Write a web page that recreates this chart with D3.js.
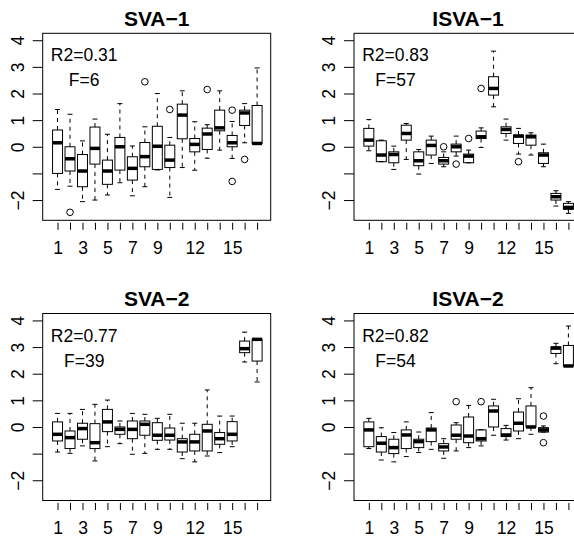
<!DOCTYPE html>
<html>
<head>
<meta charset="utf-8">
<script src="https://cdn.jsdelivr.net/npm/d3@7"></script>
<style>
  html, body { margin: 0; padding: 0; background: #fff; }
  svg text { font-family: "Liberation Sans", Arial, Helvetica, sans-serif; fill: #000; }
</style>
</head>
<body>
<svg id="chart" width="574" height="539"></svg>
<script>
// ---------- data ----------
const groups = d3.range(1, 18);
const xTickLabels = ["1", "", "3", "", "5", "", "7", "", "9", "", "", "12", "", "", "15", "", ""];
const yTickValues = [-2, -1, 0, 1, 2, 3, 4];
const yTickLabels = ["\u22122", "", "0", "1", "2", "3", "4"];

const panelTitles = ["SVA\u22121", "ISVA\u22121", "SVA\u22122", "ISVA\u22122"];
const r2Labels = ["R2=0.31", "R2=0.83", "R2=0.77", "R2=0.82"];
const fLabels = ["F=6", "F=57", "F=39", "F=54"];

// SVA-1
const sva1Lo  = [-1.6, -1.48, -2.06, -2.0, -1.81, -1.35, -1.84, -1.5, -0.87, -1.9, -0.78, -0.88, -0.43, -0.125, -0.44, 0.15, 0.125];
const sva1Q1  = [-1.0, -0.91, -1.5, -0.65, -1.41, -0.875, -1.25, -0.75, -0.85, -0.78, 0.3, -0.19, -0.1, 0.6, 0.0, 0.8, 0.125];
const sva1Med = [0.15, -0.45, -0.91, -0.06, -0.91, 0.0, -0.81, -0.37, 0.02, -0.5, 1.19, 0.09, 0.48, 0.71, 0.15, 1.27, 0.125];
const sva1Q3  = [0.63, 0.0, -0.29, 0.74, -0.5, 0.35, -0.375, 0.16, 0.77, 0.06, 1.6, 0.31, 0.7, 1.375, 0.425, 1.375, 1.55];
const sva1Hi  = [1.4, 1.22, 0.22, 1.04, 0.47, 1.62, 0.03, 0.75, 2.0, 0.35, 2.1, 0.94, 0.83, 2.1, 0.95, 1.62, 2.96];
const sva1OutGroup = [2, 8, 10, 13, 15, 15, 16];
const sva1OutValue = [-2.46, 2.44, 1.4, 2.15, 1.375, -1.3, -0.475];

// ISVA-1
const isva1Lo  = [-0.15, -0.56, -0.85, -0.475, -1.025, -0.625, -0.75, -0.35, -0.6, -0.025, 1.5, 0.25, -0.275, -0.31, -0.75, -2.225, -2.5];
const isva1Q1  = [0.025, -0.56, -0.6, 0.25, -0.71, -0.31, -0.65, -0.19, -0.6, 0.31, 1.94, 0.5, 0.125, 0.06, -0.625, -2.0, -2.35];
const isva1Med = [0.25, -0.31, -0.29, 0.5, -0.525, 0.05, -0.525, 0.0, -0.35, 0.375, 2.19, 0.65, 0.4, 0.375, -0.31, -1.875, -2.275];
const isva1Q3  = [0.69, 0.225, -0.19, 0.81, -0.19, 0.25, -0.4, 0.1, -0.275, 0.59, 2.63, 0.75, 0.44, 0.44, -0.225, -1.75, -2.125];
const isva1Hi  = [1.02, 0.25, 0.025, 0.875, -0.1, 0.4, -0.19, 0.4, -0.125, 0.71, 3.59, 1.04, 0.69, 0.525, 0.1, -1.65, -2.06];
const isva1OutGroup = [7, 8, 9, 10, 13];
const isva1OutValue = [0.0, -0.65, 0.31, 2.19, -0.56];

// SVA-2
const sva2Lo  = [-0.94, -0.99, -0.71, -1.275, -0.74, -0.625, -1.025, -0.99, -0.84, -0.84, -1.19, -1.31, -1.09, -0.96, -0.74, 2.44, 1.69];
const sva2Q1  = [-0.525, -0.81, -0.46, -0.81, -0.175, -0.275, -0.44, -0.31, -0.5, -0.49, -0.94, -0.9, -0.9, -0.65, -0.525, 2.79, 2.475];
const sva2Med = [-0.275, -0.4, -0.06, -0.59, 0.19, -0.09, -0.09, 0.1, -0.31, -0.31, -0.56, -0.56, -0.15, -0.44, -0.275, 2.94, 3.29];
const sva2Q3  = [0.19, -0.15, 0.14, 0.125, 0.66, 0.0, 0.225, 0.225, 0.16, -0.04, -0.44, -0.275, 0.1, -0.21, 0.2, 3.225, 3.29];
const sva2Hi  = [0.51, 0.51, 0.66, 0.85, 1.01, 0.225, 0.51, 0.475, 0.325, 0.475, 0.14, 0.14, 1.39, 0.41, 0.41, 3.56, 3.29];
const sva2OutGroup = [];
const sva2OutValue = [];

// ISVA-2
const isva2Lo  = [-0.81, -1.24, -1.31, -1.11, -0.96, -0.84, -1.175, -0.9, -0.775, -0.71, -0.31, -0.49, -0.44, -0.275, -0.19, 2.375, 2.29];
const isva2Q1  = [-0.74, -0.94, -1.0, -0.81, -0.775, -0.55, -0.9, -0.46, -0.59, -0.525, 0.0, -0.36, -0.15, 0.0, -0.19, 2.76, 2.29];
const isva2Med = [-0.11, -0.61, -0.775, -0.3, -0.55, -0.11, -0.75, -0.31, -0.34, -0.44, 0.6, -0.3, 0.14, 0.0, -0.11, 2.96, 2.29];
const isva2Q3  = [0.19, -0.36, -0.46, -0.11, -0.46, -0.04, -0.625, 0.075, 0.375, -0.11, 0.79, -0.06, 0.56, 0.79, -0.025, 3.01, 3.06];
const isva2Hi  = [0.325, -0.03, -0.21, 0.19, -0.19, 0.54, -0.44, 0.16, 0.81, -0.1, 1.04, 0.06, 1.06, 1.475, 0.04, 3.14, 3.79];
const isva2OutGroup = [8, 10, 15, 15];
const isva2OutValue = [0.95, 0.95, 0.41, -0.59];

// ---------- layout ----------
const svg = d3.select("#chart");
const PW = 228, PH = 187;
const panelPos = [
  { left: 42.7, top: 33.3 },
  { left: 354,  top: 33.3 },
  { left: 42.7, top: 313.5 },
  { left: 354,  top: 313.5 }
];
const panelData = [
  { lo: sva1Lo,  q1: sva1Q1,  med: sva1Med,  q3: sva1Q3,  hi: sva1Hi,  og: sva1OutGroup,  ov: sva1OutValue },
  { lo: isva1Lo, q1: isva1Q1, med: isva1Med, q3: isva1Q3, hi: isva1Hi, og: isva1OutGroup, ov: isva1OutValue },
  { lo: sva2Lo,  q1: sva2Q1,  med: sva2Med,  q3: sva2Q3,  hi: sva2Hi,  og: sva2OutGroup,  ov: sva2OutValue },
  { lo: isva2Lo, q1: isva2Q1, med: isva2Med, q3: isva2Q3, hi: isva2Hi, og: isva2OutGroup, ov: isva2OutValue }
];

const FS = 17.5;

panelData.forEach((pd, pi) => {
  const { left, top } = panelPos[pi];
  const x = d3.scaleLinear().domain([-0.19, 18.09]).range([left, left + PW]);
  const y = d3.scaleLinear().domain([-2.76, 4.26]).range([top + PH, top]);
  const ux = x(1) - x(0);
  const g = svg.append("g");

  // title
  g.append("text")
    .attr("x", left + PW / 2).attr("y", top - 7.5)
    .attr("text-anchor", "middle")
    .attr("font-size", 21).attr("font-weight", "bold")
    .text(panelTitles[pi]);

  // y axis
  const yAx = g.append("g")
    .attr("transform", `translate(${left},0)`)
    .call(d3.axisLeft(y).tickValues(yTickValues).tickSize(10)
      .tickFormat((d, i) => yTickLabels[i]));
  yAx.select(".domain").remove();
  yAx.selectAll("line").attr("stroke", "#000");
  yAx.selectAll("text")
    .attr("x", null).attr("dy", null)
    .attr("transform", "translate(-18.7,0) rotate(-90)")
    .attr("text-anchor", "middle")
    .attr("font-size", FS)
    .attr("fill", "#000");

  // x axis
  const xAx = g.append("g")
    .attr("transform", `translate(0,${top + PH + 2.5})`)
    .call(d3.axisBottom(x).tickValues(groups).tickSize(7)
      .tickFormat((d, i) => xTickLabels[i]));
  xAx.select(".domain").remove();
  xAx.selectAll("line").attr("stroke", "#000");
  xAx.selectAll("text")
    .attr("dy", null).attr("y", 31)
    .attr("font-size", FS)
    .attr("fill", "#000");

  // boxes
  const bw = 0.4 * ux, sw = 0.4 * ux;
  const bx = g.append("g").attr("fill", "none").attr("stroke", "#000").attr("stroke-width", 1);
  groups.forEach((gr, i) => {
    const cx = x(gr);
    // whiskers
    bx.append("line").attr("x1", cx).attr("x2", cx)
      .attr("y1", y(pd.q3[i])).attr("y2", y(pd.hi[i])).attr("stroke-dasharray", "4,4");
    bx.append("line").attr("x1", cx).attr("x2", cx)
      .attr("y1", y(pd.q1[i])).attr("y2", y(pd.lo[i])).attr("stroke-dasharray", "4,4");
    // staples
    bx.append("line").attr("x1", cx - sw / 2).attr("x2", cx + sw / 2)
      .attr("y1", y(pd.hi[i])).attr("y2", y(pd.hi[i]));
    bx.append("line").attr("x1", cx - sw / 2).attr("x2", cx + sw / 2)
      .attr("y1", y(pd.lo[i])).attr("y2", y(pd.lo[i]));
    // box
    bx.append("rect").attr("x", cx - bw).attr("width", 2 * bw)
      .attr("y", y(pd.q3[i])).attr("height", Math.max(0, y(pd.q1[i]) - y(pd.q3[i])));
    // median
    bx.append("line").attr("x1", cx - bw).attr("x2", cx + bw)
      .attr("y1", y(pd.med[i])).attr("y2", y(pd.med[i])).attr("stroke-width", 3.5);
  });
  // outliers
  pd.og.forEach((gr, k) => {
    bx.append("circle").attr("cx", x(gr)).attr("cy", y(pd.ov[k])).attr("r", 3.3);
  });

  // plot frame
  g.append("rect").attr("x", left).attr("y", top).attr("width", PW).attr("height", PH)
    .attr("fill", "none").attr("stroke", "#000").attr("stroke-width", 1);

  // annotations
  g.append("text").attr("x", left + 41.5).attr("y", top + 28)
    .attr("text-anchor", "middle").attr("font-size", FS).text(r2Labels[pi]);
  g.append("text").attr("x", left + 41.5).attr("y", top + 53)
    .attr("text-anchor", "middle").attr("font-size", FS).text(fLabels[pi]);
});
</script>
</body>
</html>
